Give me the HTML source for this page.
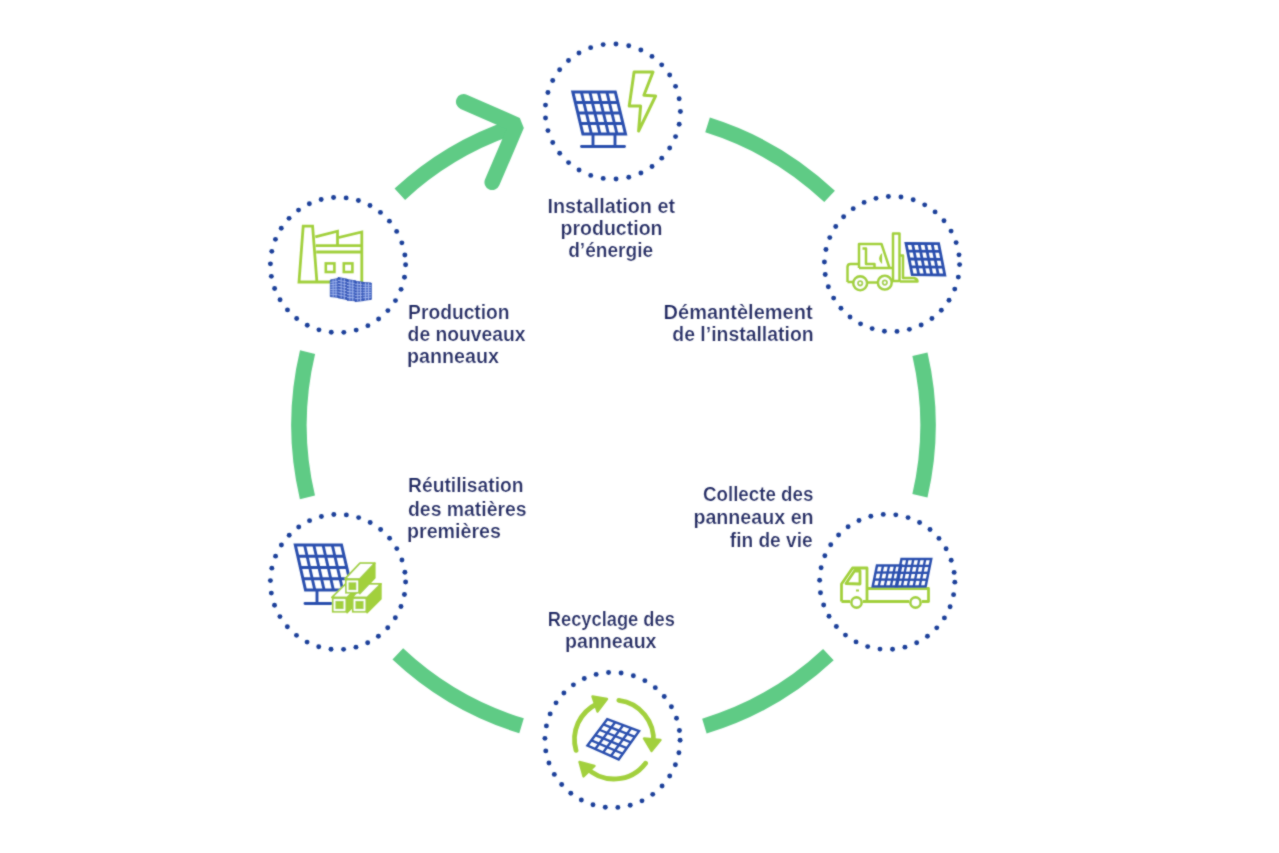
<!DOCTYPE html>
<html><head><meta charset="utf-8"><style>
html,body{margin:0;padding:0;background:#fff;width:1279px;height:853px;overflow:hidden;}
svg{display:block;position:absolute;left:0;top:0;}

text{font-family:"Liberation Sans",sans-serif;}
</style></head><body>
<svg width="1279" height="853" viewBox="0 0 1279 853">
<defs><filter id="soft" x="-2%" y="-2%" width="104%" height="104%"><feConvolveMatrix order="3" kernelMatrix="0.0417 0.0833 0.0417 0.0833 0.5000 0.0833 0.0417 0.0833 0.0417" edgeMode="none" preserveAlpha="false"/></filter></defs>
<rect width="1279" height="853" fill="#fff"/>
<g filter="url(#soft)">
<path d="M399.82,194.24 A314.5,314.5 0 0 1 516.84,125.72" fill="none" stroke="#5ecb85" stroke-width="15.5"/>
<path d="M707.55,124.89 A314.5,314.5 0 0 1 829.59,196.49" fill="none" stroke="#5ecb85" stroke-width="15.5"/>
<path d="M919.94,354.25 A314.5,314.5 0 0 1 919.94,495.75" fill="none" stroke="#5ecb85" stroke-width="15.5"/>
<path d="M828.39,654.64 A314.5,314.5 0 0 1 704.40,726.08" fill="none" stroke="#5ecb85" stroke-width="15.5"/>
<path d="M521.55,725.76 A314.5,314.5 0 0 1 397.81,653.88" fill="none" stroke="#5ecb85" stroke-width="15.5"/>
<path d="M307.44,497.35 A314.5,314.5 0 0 1 307.56,352.12" fill="none" stroke="#5ecb85" stroke-width="15.5"/>
<path d="M463.7,101.8 L516.7,125.0 L492.2,182.3" fill="none" stroke="#5ecb85" stroke-width="15.5" stroke-linecap="round" stroke-linejoin="bevel"/>
<circle cx="615.98" cy="43.98" r="2.45" fill="#1a3f9a"/>
<circle cx="628.71" cy="45.80" r="2.45" fill="#1a3f9a"/>
<circle cx="640.85" cy="50.00" r="2.45" fill="#1a3f9a"/>
<circle cx="651.99" cy="56.42" r="2.45" fill="#1a3f9a"/>
<circle cx="661.70" cy="64.83" r="2.45" fill="#1a3f9a"/>
<circle cx="669.65" cy="74.93" r="2.45" fill="#1a3f9a"/>
<circle cx="675.55" cy="86.35" r="2.45" fill="#1a3f9a"/>
<circle cx="679.17" cy="98.68" r="2.45" fill="#1a3f9a"/>
<circle cx="680.40" cy="111.47" r="2.45" fill="#1a3f9a"/>
<circle cx="679.18" cy="124.26" r="2.45" fill="#1a3f9a"/>
<circle cx="675.57" cy="136.59" r="2.45" fill="#1a3f9a"/>
<circle cx="669.69" cy="148.02" r="2.45" fill="#1a3f9a"/>
<circle cx="661.75" cy="158.13" r="2.45" fill="#1a3f9a"/>
<circle cx="652.04" cy="166.55" r="2.45" fill="#1a3f9a"/>
<circle cx="640.91" cy="172.98" r="2.45" fill="#1a3f9a"/>
<circle cx="628.77" cy="177.19" r="2.45" fill="#1a3f9a"/>
<circle cx="616.05" cy="179.02" r="2.45" fill="#1a3f9a"/>
<circle cx="603.21" cy="178.42" r="2.45" fill="#1a3f9a"/>
<circle cx="590.72" cy="175.39" r="2.45" fill="#1a3f9a"/>
<circle cx="579.03" cy="170.06" r="2.45" fill="#1a3f9a"/>
<circle cx="568.56" cy="162.61" r="2.45" fill="#1a3f9a"/>
<circle cx="559.68" cy="153.31" r="2.45" fill="#1a3f9a"/>
<circle cx="552.73" cy="142.50" r="2.45" fill="#1a3f9a"/>
<circle cx="547.95" cy="130.58" r="2.45" fill="#1a3f9a"/>
<circle cx="545.51" cy="117.96" r="2.45" fill="#1a3f9a"/>
<circle cx="545.50" cy="105.11" r="2.45" fill="#1a3f9a"/>
<circle cx="547.93" cy="92.49" r="2.45" fill="#1a3f9a"/>
<circle cx="552.70" cy="80.55" r="2.45" fill="#1a3f9a"/>
<circle cx="559.64" cy="69.74" r="2.45" fill="#1a3f9a"/>
<circle cx="568.51" cy="60.43" r="2.45" fill="#1a3f9a"/>
<circle cx="578.97" cy="52.97" r="2.45" fill="#1a3f9a"/>
<circle cx="590.66" cy="47.63" r="2.45" fill="#1a3f9a"/>
<circle cx="603.15" cy="44.59" r="2.45" fill="#1a3f9a"/>
<circle cx="959.60" cy="264.59" r="2.45" fill="#1a3f9a"/>
<circle cx="958.32" cy="277.08" r="2.45" fill="#1a3f9a"/>
<circle cx="954.76" cy="289.12" r="2.45" fill="#1a3f9a"/>
<circle cx="949.03" cy="300.30" r="2.45" fill="#1a3f9a"/>
<circle cx="941.33" cy="310.22" r="2.45" fill="#1a3f9a"/>
<circle cx="931.93" cy="318.54" r="2.45" fill="#1a3f9a"/>
<circle cx="921.16" cy="324.99" r="2.45" fill="#1a3f9a"/>
<circle cx="909.38" cy="329.33" r="2.45" fill="#1a3f9a"/>
<circle cx="896.99" cy="331.42" r="2.45" fill="#1a3f9a"/>
<circle cx="884.44" cy="331.18" r="2.45" fill="#1a3f9a"/>
<circle cx="872.15" cy="328.62" r="2.45" fill="#1a3f9a"/>
<circle cx="860.54" cy="323.83" r="2.45" fill="#1a3f9a"/>
<circle cx="850.01" cy="316.98" r="2.45" fill="#1a3f9a"/>
<circle cx="840.94" cy="308.30" r="2.45" fill="#1a3f9a"/>
<circle cx="833.63" cy="298.09" r="2.45" fill="#1a3f9a"/>
<circle cx="828.33" cy="286.71" r="2.45" fill="#1a3f9a"/>
<circle cx="825.23" cy="274.54" r="2.45" fill="#1a3f9a"/>
<circle cx="824.43" cy="262.01" r="2.45" fill="#1a3f9a"/>
<circle cx="825.96" cy="249.55" r="2.45" fill="#1a3f9a"/>
<circle cx="829.77" cy="237.58" r="2.45" fill="#1a3f9a"/>
<circle cx="835.73" cy="226.53" r="2.45" fill="#1a3f9a"/>
<circle cx="843.63" cy="216.77" r="2.45" fill="#1a3f9a"/>
<circle cx="853.20" cy="208.64" r="2.45" fill="#1a3f9a"/>
<circle cx="864.11" cy="202.42" r="2.45" fill="#1a3f9a"/>
<circle cx="875.98" cy="198.33" r="2.45" fill="#1a3f9a"/>
<circle cx="888.40" cy="196.50" r="2.45" fill="#1a3f9a"/>
<circle cx="900.95" cy="197.00" r="2.45" fill="#1a3f9a"/>
<circle cx="913.19" cy="199.81" r="2.45" fill="#1a3f9a"/>
<circle cx="924.69" cy="204.83" r="2.45" fill="#1a3f9a"/>
<circle cx="935.07" cy="211.90" r="2.45" fill="#1a3f9a"/>
<circle cx="943.97" cy="220.76" r="2.45" fill="#1a3f9a"/>
<circle cx="951.07" cy="231.12" r="2.45" fill="#1a3f9a"/>
<circle cx="956.13" cy="242.61" r="2.45" fill="#1a3f9a"/>
<circle cx="958.98" cy="254.84" r="2.45" fill="#1a3f9a"/>
<circle cx="954.80" cy="582.14" r="2.45" fill="#1a3f9a"/>
<circle cx="953.59" cy="594.63" r="2.45" fill="#1a3f9a"/>
<circle cx="950.09" cy="606.69" r="2.45" fill="#1a3f9a"/>
<circle cx="944.42" cy="617.90" r="2.45" fill="#1a3f9a"/>
<circle cx="936.77" cy="627.86" r="2.45" fill="#1a3f9a"/>
<circle cx="927.42" cy="636.23" r="2.45" fill="#1a3f9a"/>
<circle cx="916.68" cy="642.73" r="2.45" fill="#1a3f9a"/>
<circle cx="904.92" cy="647.14" r="2.45" fill="#1a3f9a"/>
<circle cx="892.55" cy="649.29" r="2.45" fill="#1a3f9a"/>
<circle cx="879.99" cy="649.11" r="2.45" fill="#1a3f9a"/>
<circle cx="867.68" cy="646.62" r="2.45" fill="#1a3f9a"/>
<circle cx="856.05" cy="641.90" r="2.45" fill="#1a3f9a"/>
<circle cx="845.49" cy="635.10" r="2.45" fill="#1a3f9a"/>
<circle cx="836.37" cy="626.47" r="2.45" fill="#1a3f9a"/>
<circle cx="829.01" cy="616.30" r="2.45" fill="#1a3f9a"/>
<circle cx="823.65" cy="604.94" r="2.45" fill="#1a3f9a"/>
<circle cx="820.48" cy="592.79" r="2.45" fill="#1a3f9a"/>
<circle cx="819.62" cy="580.26" r="2.45" fill="#1a3f9a"/>
<circle cx="821.09" cy="567.79" r="2.45" fill="#1a3f9a"/>
<circle cx="824.84" cy="555.81" r="2.45" fill="#1a3f9a"/>
<circle cx="830.74" cy="544.73" r="2.45" fill="#1a3f9a"/>
<circle cx="838.59" cy="534.93" r="2.45" fill="#1a3f9a"/>
<circle cx="848.11" cy="526.75" r="2.45" fill="#1a3f9a"/>
<circle cx="858.99" cy="520.47" r="2.45" fill="#1a3f9a"/>
<circle cx="870.84" cy="516.31" r="2.45" fill="#1a3f9a"/>
<circle cx="883.25" cy="514.42" r="2.45" fill="#1a3f9a"/>
<circle cx="895.80" cy="514.85" r="2.45" fill="#1a3f9a"/>
<circle cx="908.05" cy="517.60" r="2.45" fill="#1a3f9a"/>
<circle cx="919.58" cy="522.56" r="2.45" fill="#1a3f9a"/>
<circle cx="930.00" cy="529.57" r="2.45" fill="#1a3f9a"/>
<circle cx="938.94" cy="538.39" r="2.45" fill="#1a3f9a"/>
<circle cx="946.09" cy="548.71" r="2.45" fill="#1a3f9a"/>
<circle cx="951.21" cy="560.18" r="2.45" fill="#1a3f9a"/>
<circle cx="954.13" cy="572.39" r="2.45" fill="#1a3f9a"/>
<circle cx="680.10" cy="740.24" r="2.45" fill="#1a3f9a"/>
<circle cx="678.89" cy="752.73" r="2.45" fill="#1a3f9a"/>
<circle cx="675.39" cy="764.79" r="2.45" fill="#1a3f9a"/>
<circle cx="669.72" cy="776.00" r="2.45" fill="#1a3f9a"/>
<circle cx="662.07" cy="785.96" r="2.45" fill="#1a3f9a"/>
<circle cx="652.72" cy="794.33" r="2.45" fill="#1a3f9a"/>
<circle cx="641.98" cy="800.83" r="2.45" fill="#1a3f9a"/>
<circle cx="630.22" cy="805.24" r="2.45" fill="#1a3f9a"/>
<circle cx="617.85" cy="807.39" r="2.45" fill="#1a3f9a"/>
<circle cx="605.29" cy="807.21" r="2.45" fill="#1a3f9a"/>
<circle cx="592.98" cy="804.72" r="2.45" fill="#1a3f9a"/>
<circle cx="581.35" cy="800.00" r="2.45" fill="#1a3f9a"/>
<circle cx="570.79" cy="793.20" r="2.45" fill="#1a3f9a"/>
<circle cx="561.67" cy="784.57" r="2.45" fill="#1a3f9a"/>
<circle cx="554.31" cy="774.40" r="2.45" fill="#1a3f9a"/>
<circle cx="548.95" cy="763.04" r="2.45" fill="#1a3f9a"/>
<circle cx="545.78" cy="750.89" r="2.45" fill="#1a3f9a"/>
<circle cx="544.92" cy="738.36" r="2.45" fill="#1a3f9a"/>
<circle cx="546.39" cy="725.89" r="2.45" fill="#1a3f9a"/>
<circle cx="550.14" cy="713.91" r="2.45" fill="#1a3f9a"/>
<circle cx="556.04" cy="702.83" r="2.45" fill="#1a3f9a"/>
<circle cx="563.89" cy="693.03" r="2.45" fill="#1a3f9a"/>
<circle cx="573.41" cy="684.85" r="2.45" fill="#1a3f9a"/>
<circle cx="584.29" cy="678.57" r="2.45" fill="#1a3f9a"/>
<circle cx="596.14" cy="674.41" r="2.45" fill="#1a3f9a"/>
<circle cx="608.55" cy="672.52" r="2.45" fill="#1a3f9a"/>
<circle cx="621.10" cy="672.95" r="2.45" fill="#1a3f9a"/>
<circle cx="633.35" cy="675.70" r="2.45" fill="#1a3f9a"/>
<circle cx="644.88" cy="680.66" r="2.45" fill="#1a3f9a"/>
<circle cx="655.30" cy="687.67" r="2.45" fill="#1a3f9a"/>
<circle cx="664.24" cy="696.49" r="2.45" fill="#1a3f9a"/>
<circle cx="671.39" cy="706.81" r="2.45" fill="#1a3f9a"/>
<circle cx="676.51" cy="718.28" r="2.45" fill="#1a3f9a"/>
<circle cx="679.43" cy="730.49" r="2.45" fill="#1a3f9a"/>
<circle cx="405.60" cy="582.00" r="2.45" fill="#1a3f9a"/>
<circle cx="404.43" cy="594.50" r="2.45" fill="#1a3f9a"/>
<circle cx="400.98" cy="606.57" r="2.45" fill="#1a3f9a"/>
<circle cx="395.34" cy="617.80" r="2.45" fill="#1a3f9a"/>
<circle cx="387.73" cy="627.78" r="2.45" fill="#1a3f9a"/>
<circle cx="378.41" cy="636.19" r="2.45" fill="#1a3f9a"/>
<circle cx="367.69" cy="642.73" r="2.45" fill="#1a3f9a"/>
<circle cx="355.94" cy="647.17" r="2.45" fill="#1a3f9a"/>
<circle cx="343.58" cy="649.37" r="2.45" fill="#1a3f9a"/>
<circle cx="331.03" cy="649.24" r="2.45" fill="#1a3f9a"/>
<circle cx="318.71" cy="646.79" r="2.45" fill="#1a3f9a"/>
<circle cx="307.06" cy="642.10" r="2.45" fill="#1a3f9a"/>
<circle cx="296.48" cy="635.34" r="2.45" fill="#1a3f9a"/>
<circle cx="287.33" cy="626.75" r="2.45" fill="#1a3f9a"/>
<circle cx="279.93" cy="616.60" r="2.45" fill="#1a3f9a"/>
<circle cx="274.53" cy="605.26" r="2.45" fill="#1a3f9a"/>
<circle cx="271.32" cy="593.12" r="2.45" fill="#1a3f9a"/>
<circle cx="270.41" cy="580.60" r="2.45" fill="#1a3f9a"/>
<circle cx="271.84" cy="568.13" r="2.45" fill="#1a3f9a"/>
<circle cx="275.55" cy="556.13" r="2.45" fill="#1a3f9a"/>
<circle cx="281.41" cy="545.02" r="2.45" fill="#1a3f9a"/>
<circle cx="289.22" cy="535.20" r="2.45" fill="#1a3f9a"/>
<circle cx="298.72" cy="526.98" r="2.45" fill="#1a3f9a"/>
<circle cx="309.57" cy="520.67" r="2.45" fill="#1a3f9a"/>
<circle cx="321.41" cy="516.47" r="2.45" fill="#1a3f9a"/>
<circle cx="333.81" cy="514.53" r="2.45" fill="#1a3f9a"/>
<circle cx="346.36" cy="514.92" r="2.45" fill="#1a3f9a"/>
<circle cx="358.63" cy="517.62" r="2.45" fill="#1a3f9a"/>
<circle cx="370.18" cy="522.55" r="2.45" fill="#1a3f9a"/>
<circle cx="380.62" cy="529.53" r="2.45" fill="#1a3f9a"/>
<circle cx="389.59" cy="538.31" r="2.45" fill="#1a3f9a"/>
<circle cx="396.78" cy="548.61" r="2.45" fill="#1a3f9a"/>
<circle cx="401.94" cy="560.05" r="2.45" fill="#1a3f9a"/>
<circle cx="404.89" cy="572.26" r="2.45" fill="#1a3f9a"/>
<circle cx="405.60" cy="264.76" r="2.45" fill="#1a3f9a"/>
<circle cx="404.48" cy="277.27" r="2.45" fill="#1a3f9a"/>
<circle cx="401.06" cy="289.35" r="2.45" fill="#1a3f9a"/>
<circle cx="395.47" cy="300.60" r="2.45" fill="#1a3f9a"/>
<circle cx="387.89" cy="310.61" r="2.45" fill="#1a3f9a"/>
<circle cx="378.60" cy="319.05" r="2.45" fill="#1a3f9a"/>
<circle cx="367.90" cy="325.63" r="2.45" fill="#1a3f9a"/>
<circle cx="356.17" cy="330.11" r="2.45" fill="#1a3f9a"/>
<circle cx="343.82" cy="332.35" r="2.45" fill="#1a3f9a"/>
<circle cx="331.26" cy="332.26" r="2.45" fill="#1a3f9a"/>
<circle cx="318.94" cy="329.86" r="2.45" fill="#1a3f9a"/>
<circle cx="307.27" cy="325.21" r="2.45" fill="#1a3f9a"/>
<circle cx="296.66" cy="318.49" r="2.45" fill="#1a3f9a"/>
<circle cx="287.48" cy="309.92" r="2.45" fill="#1a3f9a"/>
<circle cx="280.05" cy="299.80" r="2.45" fill="#1a3f9a"/>
<circle cx="274.61" cy="288.49" r="2.45" fill="#1a3f9a"/>
<circle cx="271.36" cy="276.36" r="2.45" fill="#1a3f9a"/>
<circle cx="270.41" cy="263.84" r="2.45" fill="#1a3f9a"/>
<circle cx="271.79" cy="251.36" r="2.45" fill="#1a3f9a"/>
<circle cx="275.46" cy="239.35" r="2.45" fill="#1a3f9a"/>
<circle cx="281.28" cy="228.22" r="2.45" fill="#1a3f9a"/>
<circle cx="289.06" cy="218.37" r="2.45" fill="#1a3f9a"/>
<circle cx="298.53" cy="210.12" r="2.45" fill="#1a3f9a"/>
<circle cx="309.36" cy="203.77" r="2.45" fill="#1a3f9a"/>
<circle cx="321.18" cy="199.53" r="2.45" fill="#1a3f9a"/>
<circle cx="333.58" cy="197.54" r="2.45" fill="#1a3f9a"/>
<circle cx="346.13" cy="197.89" r="2.45" fill="#1a3f9a"/>
<circle cx="358.40" cy="200.55" r="2.45" fill="#1a3f9a"/>
<circle cx="369.97" cy="205.44" r="2.45" fill="#1a3f9a"/>
<circle cx="380.43" cy="212.38" r="2.45" fill="#1a3f9a"/>
<circle cx="389.43" cy="221.13" r="2.45" fill="#1a3f9a"/>
<circle cx="396.66" cy="231.40" r="2.45" fill="#1a3f9a"/>
<circle cx="401.86" cy="242.83" r="2.45" fill="#1a3f9a"/>
<circle cx="404.86" cy="255.02" r="2.45" fill="#1a3f9a"/>
<path d="M572.80,91.90 L615.30,91.90 L625.50,134.00 L582.90,134.00 Z" fill="none" stroke="#2a4fae" stroke-width="3.0" stroke-linejoin="miter"/>
<line x1="581.30" y1="91.90" x2="591.42" y2="134.00" stroke="#2a4fae" stroke-width="2.9"/>
<line x1="589.80" y1="91.90" x2="599.94" y2="134.00" stroke="#2a4fae" stroke-width="2.9"/>
<line x1="598.30" y1="91.90" x2="608.46" y2="134.00" stroke="#2a4fae" stroke-width="2.9"/>
<line x1="606.80" y1="91.90" x2="616.98" y2="134.00" stroke="#2a4fae" stroke-width="2.9"/>
<line x1="575.32" y1="102.43" x2="617.85" y2="102.43" stroke="#2a4fae" stroke-width="2.9"/>
<line x1="577.85" y1="112.95" x2="620.40" y2="112.95" stroke="#2a4fae" stroke-width="2.9"/>
<line x1="580.38" y1="123.47" x2="622.95" y2="123.47" stroke="#2a4fae" stroke-width="2.9"/>
<path d="M593,135 V146 M615,135 V146 M581.5,146.5 H624.5" fill="none" stroke="#2a4fae" stroke-width="2.9" stroke-linecap="round"/>
<path d="M634.1,71.9 L653,71.9 L643.9,95.2 L655.6,96 L638.6,131 L640.6,106.1 L629.2,106.1 Z" fill="none" stroke="#a2d03e" stroke-width="3.0" stroke-linejoin="round"/>
<path d="M859,268 V244 H881.5 L889.5,268 M862.5,248.5 H866 V264 H874.5 V268 M847.5,282 V267 Q847.5,264 850.5,264 H859 M847.5,282 H853 M868,282.5 H877 M859,268 H893 M893,233.5 H899.5 V281 H893 Z M900,255.5 H903 V278 H914 Q917.5,279 917.5,281.5 H900 M893,281.5 V268" fill="none" stroke="#a2d03e" stroke-width="2.5" stroke-linejoin="round"/>
<circle cx="860.2" cy="283.3" r="6.9" fill="#fff" stroke="#a2d03e" stroke-width="2.6"/>
<circle cx="860.2" cy="283.3" r="2.2" fill="none" stroke="#a2d03e" stroke-width="1.8"/>
<circle cx="884.8" cy="282.6" r="6.9" fill="#fff" stroke="#a2d03e" stroke-width="2.6"/>
<circle cx="884.8" cy="282.6" r="2.2" fill="none" stroke="#a2d03e" stroke-width="1.8"/>
<path d="M881.5,254.5 Q878,258.5 881.5,262.5 Z" fill="#a2d03e" stroke="#a2d03e" stroke-width="1.2"/>
<path d="M906.00,243.40 L938.60,243.60 L944.80,275.00 L912.20,274.60 Z" fill="none" stroke="#2a4fae" stroke-width="2.8" stroke-linejoin="miter"/>
<line x1="912.52" y1="243.44" x2="918.72" y2="274.68" stroke="#2a4fae" stroke-width="2.8"/>
<line x1="919.04" y1="243.48" x2="925.24" y2="274.76" stroke="#2a4fae" stroke-width="2.8"/>
<line x1="925.56" y1="243.52" x2="931.76" y2="274.84" stroke="#2a4fae" stroke-width="2.8"/>
<line x1="932.08" y1="243.56" x2="938.28" y2="274.92" stroke="#2a4fae" stroke-width="2.8"/>
<line x1="907.55" y1="251.20" x2="940.15" y2="251.45" stroke="#2a4fae" stroke-width="2.8"/>
<line x1="909.10" y1="259.00" x2="941.70" y2="259.30" stroke="#2a4fae" stroke-width="2.8"/>
<line x1="910.65" y1="266.80" x2="943.25" y2="267.15" stroke="#2a4fae" stroke-width="2.8"/>
<path d="M841.5,601.5 V584 L852.5,568 H867 V601.5 M846,583.5 L854.5,571 H860 V584 Z M867,588.5 H928.5 V601.5 H922 M909,601.5 H863 M841.5,601.5 H850" fill="none" stroke="#a2d03e" stroke-width="2.8" stroke-linejoin="round"/>
<circle cx="856.5" cy="602.5" r="5.1" fill="#fff" stroke="#a2d03e" stroke-width="2.6"/>
<circle cx="915.5" cy="602.5" r="5.1" fill="#fff" stroke="#a2d03e" stroke-width="2.6"/>
<path d="M856,590.5 H859" stroke="#a2d03e" stroke-width="2"/>
<path d="M877.00,565.50 L901.20,565.50 L896.90,586.60 L872.70,586.60 Z" fill="none" stroke="#2a4fae" stroke-width="2.5" stroke-linejoin="miter"/>
<line x1="883.05" y1="565.50" x2="878.75" y2="586.60" stroke="#2a4fae" stroke-width="2.35"/>
<line x1="889.10" y1="565.50" x2="884.80" y2="586.60" stroke="#2a4fae" stroke-width="2.35"/>
<line x1="895.15" y1="565.50" x2="890.85" y2="586.60" stroke="#2a4fae" stroke-width="2.35"/>
<line x1="875.57" y1="572.53" x2="899.77" y2="572.53" stroke="#2a4fae" stroke-width="2.35"/>
<line x1="874.13" y1="579.57" x2="898.33" y2="579.57" stroke="#2a4fae" stroke-width="2.35"/>
<path d="M901.50,559.00 L931.20,559.00 L925.60,586.60 L895.90,586.60 Z" fill="none" stroke="#2a4fae" stroke-width="2.5" stroke-linejoin="miter"/>
<line x1="907.44" y1="559.00" x2="901.84" y2="586.60" stroke="#2a4fae" stroke-width="2.35"/>
<line x1="913.38" y1="559.00" x2="907.78" y2="586.60" stroke="#2a4fae" stroke-width="2.35"/>
<line x1="919.32" y1="559.00" x2="913.72" y2="586.60" stroke="#2a4fae" stroke-width="2.35"/>
<line x1="925.26" y1="559.00" x2="919.66" y2="586.60" stroke="#2a4fae" stroke-width="2.35"/>
<line x1="900.10" y1="565.90" x2="929.80" y2="565.90" stroke="#2a4fae" stroke-width="2.35"/>
<line x1="898.70" y1="572.80" x2="928.40" y2="572.80" stroke="#2a4fae" stroke-width="2.35"/>
<line x1="897.30" y1="579.70" x2="927.00" y2="579.70" stroke="#2a4fae" stroke-width="2.35"/>
<path d="M295.30,545.00 L341.50,545.00 L352.00,590.00 L305.50,590.00 Z" fill="none" stroke="#2a4fae" stroke-width="3.0" stroke-linejoin="miter"/>
<line x1="304.54" y1="545.00" x2="314.80" y2="590.00" stroke="#2a4fae" stroke-width="2.9"/>
<line x1="313.78" y1="545.00" x2="324.10" y2="590.00" stroke="#2a4fae" stroke-width="2.9"/>
<line x1="323.02" y1="545.00" x2="333.40" y2="590.00" stroke="#2a4fae" stroke-width="2.9"/>
<line x1="332.26" y1="545.00" x2="342.70" y2="590.00" stroke="#2a4fae" stroke-width="2.9"/>
<line x1="297.85" y1="556.25" x2="344.12" y2="556.25" stroke="#2a4fae" stroke-width="2.9"/>
<line x1="300.40" y1="567.50" x2="346.75" y2="567.50" stroke="#2a4fae" stroke-width="2.9"/>
<line x1="302.95" y1="578.75" x2="349.38" y2="578.75" stroke="#2a4fae" stroke-width="2.9"/>
<path d="M317,591 V603.5 M305,603.5 H331" fill="none" stroke="#2a4fae" stroke-width="2.9" stroke-linecap="round"/>
<path d="M347.09999999999997,597.4 L360.9,583.8 L360.9,599.0 L347.09999999999997,612.6 Z" fill="#a2d03e" stroke="#a2d03e" stroke-width="1.6" stroke-linejoin="round"/>
<path d="M331.9,597.4 L345.7,583.8 L360.9,583.8 L347.09999999999997,597.4 Z" fill="#fff" stroke="#a2d03e" stroke-width="1.8" stroke-linejoin="round"/>
<rect x="331.9" y="597.4" width="15.2" height="15.2" fill="#a2d03e"/>
<rect x="334.5" y="600.0" width="10.0" height="10.0" fill="none" stroke="#fff" stroke-width="1.8"/>
<path d="M367.09999999999997,597.4 L380.9,583.8 L380.9,599.0 L367.09999999999997,612.6 Z" fill="#a2d03e" stroke="#a2d03e" stroke-width="1.6" stroke-linejoin="round"/>
<path d="M351.9,597.4 L365.7,583.8 L380.9,583.8 L367.09999999999997,597.4 Z" fill="#fff" stroke="#a2d03e" stroke-width="1.8" stroke-linejoin="round"/>
<rect x="351.9" y="597.4" width="15.2" height="15.2" fill="#a2d03e"/>
<rect x="354.5" y="600.0" width="10.0" height="10.0" fill="none" stroke="#fff" stroke-width="1.8"/>
<path d="M359.8,578.8 L374.8,563.1999999999999 L374.8,577.9999999999999 L359.8,593.5999999999999 Z" fill="#a2d03e" stroke="#a2d03e" stroke-width="1.6" stroke-linejoin="round"/>
<path d="M345.0,578.8 L360.0,563.1999999999999 L374.8,563.1999999999999 L359.8,578.8 Z" fill="#fff" stroke="#a2d03e" stroke-width="1.8" stroke-linejoin="round"/>
<rect x="345.0" y="578.8" width="14.8" height="14.8" fill="#a2d03e"/>
<rect x="347.6" y="581.4" width="9.600000000000001" height="9.600000000000001" fill="none" stroke="#fff" stroke-width="1.8"/>
<path d="M576.03,750.39 A39.5,39.5 0 0 1 597.31,703.70" fill="none" stroke="#a2d03e" stroke-width="4.8" stroke-linecap="round"/>
<path d="M618.81,700.29 A39.5,39.5 0 0 1 653.35,742.94" fill="none" stroke="#a2d03e" stroke-width="4.8" stroke-linecap="round"/>
<path d="M645.55,763.27 A39.5,39.5 0 0 1 585.59,766.94" fill="none" stroke="#a2d03e" stroke-width="4.8" stroke-linecap="round"/>
<path d="M592.5,696.5 L607,699 L597.5,711.5 Z" fill="#a2d03e" stroke="#a2d03e" stroke-width="2.4" stroke-linejoin="round"/>
<path d="M644,738.5 L660.5,740 L651.5,751 Z" fill="#a2d03e" stroke="#a2d03e" stroke-width="2.4" stroke-linejoin="round"/>
<path d="M579.5,762 L594.5,766 L583.5,776.5 Z" fill="#a2d03e" stroke="#a2d03e" stroke-width="2.4" stroke-linejoin="round"/>
<path d="M607.20,719.20 L639.00,731.20 L618.70,759.40 L587.50,745.60 Z" fill="none" stroke="#2a4fae" stroke-width="2.5" stroke-linejoin="miter"/>
<line x1="615.15" y1="722.20" x2="595.30" y2="749.05" stroke="#2a4fae" stroke-width="2.4"/>
<line x1="623.10" y1="725.20" x2="603.10" y2="752.50" stroke="#2a4fae" stroke-width="2.4"/>
<line x1="631.05" y1="728.20" x2="610.90" y2="755.95" stroke="#2a4fae" stroke-width="2.4"/>
<line x1="603.26" y1="724.48" x2="634.94" y2="736.84" stroke="#2a4fae" stroke-width="2.4"/>
<line x1="599.32" y1="729.76" x2="630.88" y2="742.48" stroke="#2a4fae" stroke-width="2.4"/>
<line x1="595.38" y1="735.04" x2="626.82" y2="748.12" stroke="#2a4fae" stroke-width="2.4"/>
<line x1="591.44" y1="740.32" x2="622.76" y2="753.76" stroke="#2a4fae" stroke-width="2.4"/>
<path d="M303.2,226.2 H312.6 L316.9,282 H299 Z M315.3,236.8 L337.5,231.2 V237.8 L361.8,232 V282 M315.8,245.6 H362.2 M316.2,252 H362.2 M316.9,282 H334 M337.5,231.2 V245.6" fill="none" stroke="#a2d03e" stroke-width="2.8" stroke-linejoin="miter"/>
<rect x="325.8" y="263.4" width="8.6" height="8.6" fill="none" stroke="#a2d03e" stroke-width="2.6"/>
<rect x="343.8" y="263.4" width="8.6" height="8.6" fill="none" stroke="#a2d03e" stroke-width="2.6"/>
<path d="M330.3,280.0 L338.6,278.4 L338.9,297.4 L330.3,296.6 Z" fill="#4064c4" stroke="#2f52b4" stroke-width="0.9"/>
<line x1="333.07" y1="279.47" x2="333.17" y2="296.87" stroke="#a9bdf0" stroke-width="0.8"/>
<line x1="335.83" y1="278.93" x2="336.03" y2="297.13" stroke="#a9bdf0" stroke-width="0.8"/>
<line x1="330.30" y1="282.37" x2="338.64" y2="281.11" stroke="#a9bdf0" stroke-width="0.8"/>
<line x1="330.30" y1="284.74" x2="338.69" y2="283.83" stroke="#a9bdf0" stroke-width="0.8"/>
<line x1="330.30" y1="287.11" x2="338.73" y2="286.54" stroke="#a9bdf0" stroke-width="0.8"/>
<line x1="330.30" y1="289.49" x2="338.77" y2="289.26" stroke="#a9bdf0" stroke-width="0.8"/>
<line x1="330.30" y1="291.86" x2="338.81" y2="291.97" stroke="#a9bdf0" stroke-width="0.8"/>
<line x1="330.30" y1="294.23" x2="338.86" y2="294.69" stroke="#a9bdf0" stroke-width="0.8"/>
<path d="M338.0,277.4 L347.4,279.2 L347.4,299.6 L338.0,297.8 Z" fill="#3558bb" stroke="#2f52b4" stroke-width="0.9"/>
<line x1="341.13" y1="278.00" x2="341.13" y2="298.40" stroke="#a9bdf0" stroke-width="0.8"/>
<line x1="344.27" y1="278.60" x2="344.27" y2="299.00" stroke="#a9bdf0" stroke-width="0.8"/>
<line x1="338.00" y1="280.31" x2="347.40" y2="282.11" stroke="#a9bdf0" stroke-width="0.8"/>
<line x1="338.00" y1="283.23" x2="347.40" y2="285.03" stroke="#a9bdf0" stroke-width="0.8"/>
<line x1="338.00" y1="286.14" x2="347.40" y2="287.94" stroke="#a9bdf0" stroke-width="0.8"/>
<line x1="338.00" y1="289.06" x2="347.40" y2="290.86" stroke="#a9bdf0" stroke-width="0.8"/>
<line x1="338.00" y1="291.97" x2="347.40" y2="293.77" stroke="#a9bdf0" stroke-width="0.8"/>
<line x1="338.00" y1="294.89" x2="347.40" y2="296.69" stroke="#a9bdf0" stroke-width="0.8"/>
<path d="M347.0,279.6 L355.6,280.8 L355.6,300.8 L347.0,300.2 Z" fill="#4064c4" stroke="#2f52b4" stroke-width="0.9"/>
<line x1="349.87" y1="280.00" x2="349.87" y2="300.40" stroke="#a9bdf0" stroke-width="0.8"/>
<line x1="352.73" y1="280.40" x2="352.73" y2="300.60" stroke="#a9bdf0" stroke-width="0.8"/>
<line x1="347.00" y1="282.54" x2="355.60" y2="283.66" stroke="#a9bdf0" stroke-width="0.8"/>
<line x1="347.00" y1="285.49" x2="355.60" y2="286.51" stroke="#a9bdf0" stroke-width="0.8"/>
<line x1="347.00" y1="288.43" x2="355.60" y2="289.37" stroke="#a9bdf0" stroke-width="0.8"/>
<line x1="347.00" y1="291.37" x2="355.60" y2="292.23" stroke="#a9bdf0" stroke-width="0.8"/>
<line x1="347.00" y1="294.31" x2="355.60" y2="295.09" stroke="#a9bdf0" stroke-width="0.8"/>
<line x1="347.00" y1="297.26" x2="355.60" y2="297.94" stroke="#a9bdf0" stroke-width="0.8"/>
<path d="M355.0,281.2 L363.4,282.2 L363.4,300.6 L355.0,301.6 Z" fill="#3558bb" stroke="#2f52b4" stroke-width="0.9"/>
<line x1="357.80" y1="281.53" x2="357.80" y2="301.27" stroke="#a9bdf0" stroke-width="0.8"/>
<line x1="360.60" y1="281.87" x2="360.60" y2="300.93" stroke="#a9bdf0" stroke-width="0.8"/>
<line x1="355.00" y1="284.11" x2="363.40" y2="284.83" stroke="#a9bdf0" stroke-width="0.8"/>
<line x1="355.00" y1="287.03" x2="363.40" y2="287.46" stroke="#a9bdf0" stroke-width="0.8"/>
<line x1="355.00" y1="289.94" x2="363.40" y2="290.09" stroke="#a9bdf0" stroke-width="0.8"/>
<line x1="355.00" y1="292.86" x2="363.40" y2="292.71" stroke="#a9bdf0" stroke-width="0.8"/>
<line x1="355.00" y1="295.77" x2="363.40" y2="295.34" stroke="#a9bdf0" stroke-width="0.8"/>
<line x1="355.00" y1="298.69" x2="363.40" y2="297.97" stroke="#a9bdf0" stroke-width="0.8"/>
<path d="M362.8,282.4 L371.3,283.0 L371.3,299.4 L362.8,300.4 Z" fill="#4064c4" stroke="#2f52b4" stroke-width="0.9"/>
<line x1="365.63" y1="282.60" x2="365.63" y2="300.07" stroke="#a9bdf0" stroke-width="0.8"/>
<line x1="368.47" y1="282.80" x2="368.47" y2="299.73" stroke="#a9bdf0" stroke-width="0.8"/>
<line x1="362.80" y1="284.97" x2="371.30" y2="285.34" stroke="#a9bdf0" stroke-width="0.8"/>
<line x1="362.80" y1="287.54" x2="371.30" y2="287.69" stroke="#a9bdf0" stroke-width="0.8"/>
<line x1="362.80" y1="290.11" x2="371.30" y2="290.03" stroke="#a9bdf0" stroke-width="0.8"/>
<line x1="362.80" y1="292.69" x2="371.30" y2="292.37" stroke="#a9bdf0" stroke-width="0.8"/>
<line x1="362.80" y1="295.26" x2="371.30" y2="294.71" stroke="#a9bdf0" stroke-width="0.8"/>
<line x1="362.80" y1="297.83" x2="371.30" y2="297.06" stroke="#a9bdf0" stroke-width="0.8"/>
<g font-family="Liberation Sans, sans-serif" font-weight="bold" font-size="20" fill="#1b2563" stroke="#fff" stroke-width="0.22">
<text x="547.50" y="212.5" textLength="127.50" lengthAdjust="spacingAndGlyphs">Installation et</text>
<text x="560.60" y="235.2" textLength="101.90" lengthAdjust="spacingAndGlyphs">production</text>
<text x="568.20" y="257.4" textLength="84.90" lengthAdjust="spacingAndGlyphs">d’énergie</text>
<text x="663.60" y="318.8" textLength="149.00" lengthAdjust="spacingAndGlyphs">Démantèlement</text>
<text x="672.30" y="340.7" textLength="141.30" lengthAdjust="spacingAndGlyphs">de l’installation</text>
<text x="703.00" y="500.6" textLength="110.30" lengthAdjust="spacingAndGlyphs">Collecte des</text>
<text x="693.40" y="524.1" textLength="120.20" lengthAdjust="spacingAndGlyphs">panneaux en</text>
<text x="729.80" y="546.8" textLength="82.80" lengthAdjust="spacingAndGlyphs">fin de vie</text>
<text x="408.10" y="319.0" textLength="101.50" lengthAdjust="spacingAndGlyphs">Production</text>
<text x="407.60" y="341.4" textLength="118.00" lengthAdjust="spacingAndGlyphs">de nouveaux</text>
<text x="407.00" y="363.3" textLength="92.00" lengthAdjust="spacingAndGlyphs">panneaux</text>
<text x="408.10" y="492.4" textLength="115.40" lengthAdjust="spacingAndGlyphs">Réutilisation</text>
<text x="408.00" y="515.6" textLength="118.60" lengthAdjust="spacingAndGlyphs">des matières</text>
<text x="407.00" y="537.8" textLength="94.00" lengthAdjust="spacingAndGlyphs">premières</text>
<text x="547.80" y="626.4" textLength="127.10" lengthAdjust="spacingAndGlyphs">Recyclage des</text>
<text x="565.00" y="648.1" textLength="91.50" lengthAdjust="spacingAndGlyphs">panneaux</text>
</g>
</g>
</svg>
</body></html>
